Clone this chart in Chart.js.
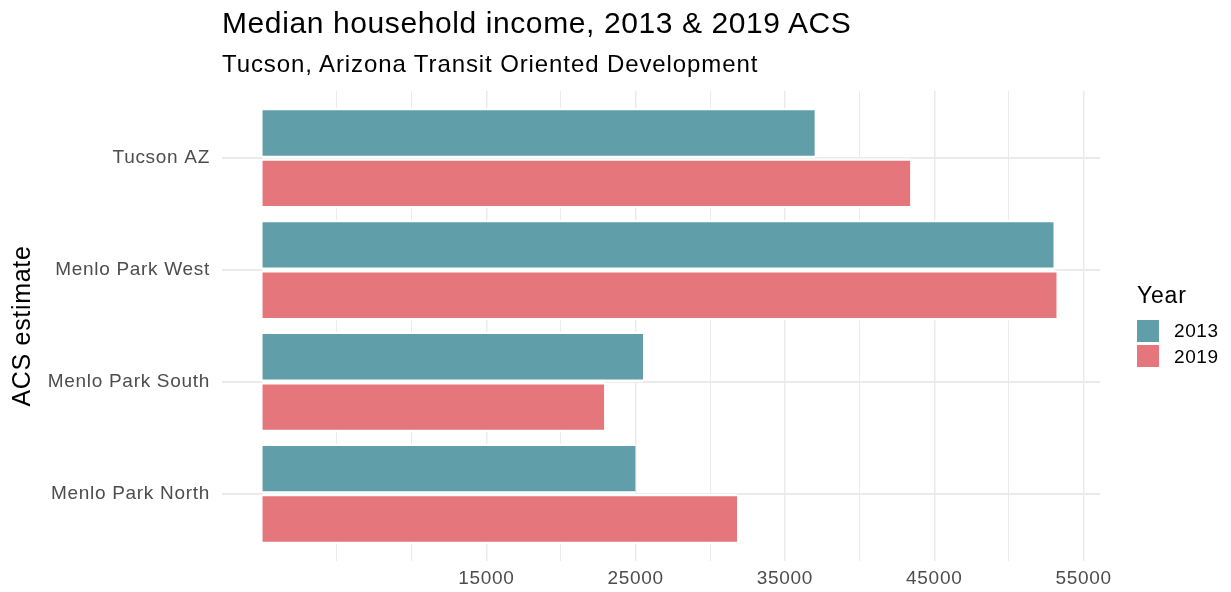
<!DOCTYPE html>
<html lang="en">
<head>
    <meta charset="UTF-8">
    <title>Median household income, 2013 & 2019 ACS</title>
    <script src="https://cdn.jsdelivr.net/npm/chart.js"></script>
    <style>
        body {
            margin: 0;
            background: white;
            font-family: "Liberation Sans", Arial, sans-serif;
        }

        .wrap {
            position: relative;
            width: 1231px;
            height: 592px;
        }

        .title, .subtitle, .legend-head, .legend-row {
            position: absolute;
            color: black;
            white-space: nowrap;
            line-height: 1;
        }

        .title {
            left: 222px;
            top: 8px;
            font-size: 30px;
            letter-spacing: 0.6px;
        }

        .subtitle {
            left: 222px;
            top: 52px;
            font-size: 24px;
            letter-spacing: 0.9px;
        }

        .legend-head {
            left: 1137px;
            top: 284px;
            font-size: 23px;
            letter-spacing: 0.8px;
        }

        .legend-row {
            left: 1137px;
            display: flex;
            align-items: center;
            height: 22px;
            font-size: 19px;
            letter-spacing: 0.6px;
        }

        .legend-row .key {
            width: 22px;
            height: 22px;
            margin-right: 15px;
        }
    </style>
</head>
<body>

    <div class="wrap" id="wrap">
        <canvas id="incomeChart" width="1231" height="592"></canvas>
        <div class="title">Median household income, 2013 &amp; 2019 ACS</div>
        <div class="subtitle">Tucson, Arizona Transit Oriented Development</div>
        <div class="legend-head">Year</div>
    </div>

    <script>
        // data
        const areas = ['Tucson AZ', 'Menlo Park West', 'Menlo Park South', 'Menlo Park North'];
        const years = ['2013', '2019'];
        const income2013 = [37000, 53000, 25500, 25000];
        const income2019 = [43400, 53200, 22900, 31800];
        const gridTicks = [5000, 10000, 15000, 20000, 25000, 30000, 35000, 40000, 45000, 50000, 55000];
        const labelTicks = [15000, 25000, 35000, 45000, 55000];

        const colors = ['#609FAA', '#E4767C'];
        const fontFamily = '"Liberation Sans", Arial, sans-serif';

        // legend keys
        const wrap = document.getElementById('wrap');
        years.forEach((y, i) => {
            const row = document.createElement('div');
            row.className = 'legend-row';
            row.style.top = (319.5 + i * 25.7) + 'px';
            row.innerHTML = `<div class="key" style="background:${colors[i]}"></div>${y}`;
            wrap.appendChild(row);
        });

        // slightly wider text, like the original
        const spacing = {
            id: 'spacing',
            beforeDraw: c => { c.ctx.letterSpacing = '0.7px'; }
        };

        const ctx = document.getElementById('incomeChart').getContext('2d');
        const chart = new Chart(ctx, {
            type: 'bar',
            data: {
                labels: areas,
                datasets: [
                    { label: years[0], data: income2013, backgroundColor: colors[0] },
                    { label: years[1], data: income2019, backgroundColor: colors[1] }
                ].map(d => Object.assign(d, {
                    borderColor: '#ffffff',
                    borderWidth: { top: 2.5, bottom: 2.5, left: 0, right: 0 },
                    borderSkipped: false,
                    categoryPercentage: 0.9,
                    barPercentage: 1
                }))
            },
            plugins: [spacing],
            options: {
                indexAxis: 'y',
                responsive: false,
                animation: false,
                layout: { padding: { left: 0, top: 91, right: 131, bottom: 0 } },
                plugins: {
                    legend: { display: false },
                    tooltip: { enabled: false }
                },
                scales: {
                    x: {
                        min: -2700,
                        max: 56100,
                        afterBuildTicks: s => { s.ticks = gridTicks.map(v => ({ value: v })); },
                        afterFit: s => { s.height = 31; },
                        border: { display: false },
                        grid: {
                            color: '#EBEBEB',
                            lineWidth: c => labelTicks.includes(c.tick && c.tick.value) ? 1.5 : 1,
                            drawTicks: false
                        },
                        ticks: {
                            autoSkip: false,
                            maxRotation: 0,
                            padding: 6,
                            color: '#4D4D4D',
                            font: { family: fontFamily, size: 19 },
                            callback: v => labelTicks.includes(v) ? String(v) : ''
                        }
                    },
                    y: {
                        // ggplot-style padding: 0.6 of a category above and below
                        afterBuildTicks: s => { s._startValue = -0.6; s._valueRange = areas.length + 0.2; },
                        afterFit: s => { s.width = 222; },
                        border: { display: false },
                        grid: {
                            color: '#EBEBEB',
                            lineWidth: 2,
                            offset: false,
                            drawTicks: false
                        },
                        ticks: {
                            padding: 12,
                            color: '#4D4D4D',
                            font: { family: fontFamily, size: 19 }
                        },
                        title: {
                            display: true,
                            text: 'ACS estimate',
                            color: 'black',
                            font: { family: fontFamily, size: 25 },
                            padding: { top: 8, bottom: 0 }
                        }
                    }
                }
            }
        });
    </script>

</body>
</html>
